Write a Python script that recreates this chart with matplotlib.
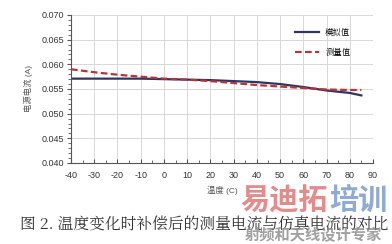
import numpy as np
import matplotlib.pyplot as plt
from matplotlib.ticker import MultipleLocator

plt.rcParams['font.family'] = ['Liberation Sans', 'Noto Sans CJK SC', 'DejaVu Sans']
plt.rcParams['axes.unicode_minus'] = False

temp = [-40, -30, -20, -10, 0, 10, 20, 30, 40, 50, 60, 70, 80, 85]
sim_current = [0.0571, 0.0571, 0.0571, 0.0571, 0.0570, 0.0569, 0.0568, 0.0566,
               0.0564, 0.0560, 0.0554, 0.0547, 0.0542, 0.0537]
meas_current = [0.0590, 0.0584, 0.0579, 0.0575, 0.0571, 0.0569, 0.0566, 0.0562,
                0.0558, 0.0555, 0.0552, 0.0549, 0.0548, 0.0548]
caption = '图 2. 温度变化时补偿后的测量电流与仿真电流的对比'

fig = plt.figure(figsize=(3.92, 2.44), dpi=100)
ax = fig.add_axes([71 / 392, 1 - 163 / 244, (373 - 71) / 392, (163 - 15) / 244])

ax.plot(temp, sim_current, color='#2e3560', linewidth=1.6, label='模拟值')
ax.plot(temp, meas_current, color='#b8333a', linewidth=1.6, linestyle=(0, (3, 1.5)),
        label='测量值')

ax.set_xlim(-40, 90)
ax.set_ylim(0.040, 0.070)
ax.xaxis.set_major_locator(MultipleLocator(10))
ax.xaxis.set_minor_locator(MultipleLocator(5))
ax.yaxis.set_major_locator(MultipleLocator(0.005))
ax.yaxis.set_minor_locator(MultipleLocator(0.001))
ax.yaxis.set_major_formatter(lambda v, p: '%.3f' % v)
ax.grid(True, which='major', color='#d8d8d8', linewidth=0.7)
ax.set_axisbelow(True)
for s in ['top', 'right']:
    ax.spines[s].set_visible(False)
ax.spines['left'].set_color('#555555')
ax.spines['bottom'].set_color('#555555')
ax.tick_params(which='both', labelsize=6.5, color='#555555', labelcolor='#333333')
ax.tick_params(axis='x', which='both', direction='in', pad=6)
ax.tick_params(axis='y', which='both', direction='out', pad=2)
ax.tick_params(which='major', length=3)
ax.tick_params(which='minor', length=2)

ax.set_xlabel('温度 (C)', fontsize=6, color='#555555', labelpad=4)
ax.set_ylabel('电源电流 (A)', fontsize=6, color='#555555', labelpad=6)

ax.legend(loc='upper right', frameon=False, handlelength=2.8,
          labelspacing=1.3, bbox_to_anchor=(0.95, 0.97),
          prop={'family': ['Noto Serif CJK SC', 'Noto Sans CJK SC'], 'size': 6})

fig.text(0.52, 1 - 225 / 244, caption, ha='center', va='center', fontsize=11.3,
         color='#333333', family=['Noto Serif CJK SC', 'Noto Sans CJK SC'])

# watermark
fig.text(240 / 392, 1 - 200 / 244, '易迪拓', ha='left', va='center', fontsize=21,
         color='#e07878', weight='bold', alpha=0.85, family=['Noto Sans CJK SC'])
fig.text(387 / 392, 1 - 200 / 244, '培训', ha='right', va='center', fontsize=21,
         color='#7c9ccc', weight='bold', alpha=0.85, family=['Noto Sans CJK SC'])
fig.text(313 / 392, 1 - 235 / 244, '射频和天线设计专家', ha='center', va='center',
         fontsize=11, color='#888888', alpha=0.8, weight='bold',
         family=['Noto Sans CJK SC'])

fig.savefig('out.png', dpi=100)
